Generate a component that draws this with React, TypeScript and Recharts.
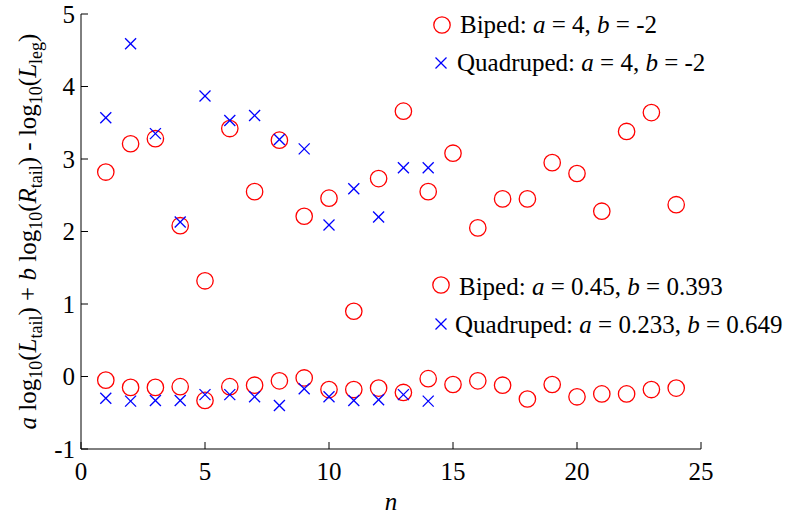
import { ScatterChart, Scatter, XAxis, YAxis, Label } from 'recharts';

const nBiped = [1, 2, 3, 4, 5, 6, 7, 8, 9, 10, 11, 12, 13, 14, 15, 16, 17, 18, 19, 20, 21, 22, 23, 24];
const nQuad = [1, 2, 3, 4, 5, 6, 7, 8, 9, 10, 11, 12, 13, 14];

// a = 4, b = -2
const bipedRaw = [2.82, 3.21, 3.28, 2.08, 1.32, 3.42, 2.55, 3.26, 2.21, 2.46, 0.9, 2.73, 3.66, 2.55, 3.08, 2.05, 2.45, 2.45, 2.95, 2.8, 2.28, 3.38, 3.64, 2.37];
const quadRaw = [3.57, 4.59, 3.35, 2.13, 3.87, 3.53, 3.6, 3.27, 3.14, 2.09, 2.59, 2.2, 2.88, 2.88];

// fitted a, b
const bipedFit = [-0.05, -0.15, -0.15, -0.14, -0.33, -0.14, -0.12, -0.06, -0.02, -0.18, -0.18, -0.16, -0.22, -0.03, -0.11, -0.06, -0.12, -0.31, -0.11, -0.28, -0.24, -0.24, -0.18, -0.16];
const quadFit = [-0.3, -0.34, -0.33, -0.33, -0.25, -0.25, -0.28, -0.4, -0.17, -0.28, -0.33, -0.32, -0.25, -0.34];

const xTicks = [0, 5, 10, 15, 20, 25];
const yTicks = [-1, 0, 1, 2, 3, 4, 5];

const toPoints = (xs: number[], ys: number[]) => xs.map((n, i) => ({ n, v: ys[i] }));

const FAM = { fontFamily: 'Liberation Serif' };
const FS = 25;
const SUB = 18;
const RED = '#ff0000';
const BLUE = '#0000ff';

const Ring = ({ cx, cy }: any) => (
  <circle cx={cx} cy={cy} r={8.2} fill="none" stroke={RED} strokeWidth={1.3} />
);

const Cross = ({ cx, cy }: any) => {
  const h = 5.5;
  return (
    <g stroke={BLUE} strokeWidth={1.3}>
      <line x1={cx - h} y1={cy - h} x2={cx + h} y2={cy + h} />
      <line x1={cx - h} y1={cy + h} x2={cx + h} y2={cy - h} />
    </g>
  );
};

const XTick = ({ x, y, payload }: any) => (
  <g>
    <line x1={x} y1={y} x2={x} y2={y - 7} stroke="#000" strokeWidth={1} />
    <text x={x} y={y + 31} textAnchor="middle" fontSize={FS} style={FAM} fill="#000">
      {payload.value}
    </text>
  </g>
);

const YTick = ({ x, y, payload }: any) => (
  <g>
    <line x1={x} y1={y} x2={x + 7} y2={y} stroke="#000" strokeWidth={1} />
    <text x={x - 6} y={y + 8.5} textAnchor="end" fontSize={FS} style={FAM} fill="#000">
      {payload.value}
    </text>
  </g>
);

const YTitle = ({ viewBox }: any) => {
  const cx = viewBox.x + 36;
  const cy = viewBox.y + viewBox.height / 2;
  return (
    <text
      x={cx}
      y={cy}
      transform={`rotate(-90, ${cx}, ${cy})`}
      textAnchor="middle"
      fontSize={FS}
      style={FAM}
      fill="#000"
    >
      <tspan fontStyle="italic">a</tspan>
      <tspan> log</tspan>
      <tspan dy={6} fontSize={SUB}>10</tspan>
      <tspan dy={-6}>(</tspan>
      <tspan fontStyle="italic">L</tspan>
      <tspan dy={6} fontSize={SUB}>tail</tspan>
      <tspan dy={-6}>) + </tspan>
      <tspan fontStyle="italic">b</tspan>
      <tspan> log</tspan>
      <tspan dy={6} fontSize={SUB}>10</tspan>
      <tspan dy={-6}>(</tspan>
      <tspan fontStyle="italic">R</tspan>
      <tspan dy={6} fontSize={SUB}>tail</tspan>
      <tspan dy={-6}>) - log</tspan>
      <tspan dy={6} fontSize={SUB}>10</tspan>
      <tspan dy={-6}>(</tspan>
      <tspan fontStyle="italic">L</tspan>
      <tspan dy={6} fontSize={SUB}>leg</tspan>
      <tspan dy={-6}>)</tspan>
    </text>
  );
};

const XTitle = ({ viewBox }: any) => (
  <text
    x={viewBox.x + viewBox.width / 2}
    y={510}
    textAnchor="middle"
    fontSize={FS}
    fontStyle="italic"
    style={FAM}
    fill="#000"
  >
    n
  </text>
);

const legendRows = [
  { kind: 'ring', mx: 442, my: 25, tx: 460, ty: 33, name: 'Biped: ', a: '4', b: '-2' },
  { kind: 'cross', mx: 441, my: 63, tx: 457, ty: 71, name: 'Quadruped: ', a: '4', b: '-2' },
  { kind: 'ring', mx: 441, my: 285, tx: 459, ty: 295, name: 'Biped: ', a: '0.45', b: '0.393' },
  { kind: 'cross', mx: 441, my: 324, tx: 455, ty: 333, name: 'Quadruped: ', a: '0.233', b: '0.649' },
];

const LegendOverlay = () => (
  <svg width={804} height={514} style={{ position: 'absolute', left: 0, top: 0, pointerEvents: 'none' }}>
    {legendRows.map((r, i) => (
      <g key={i}>
        {r.kind === 'ring' ? <Ring cx={r.mx} cy={r.my} /> : <Cross cx={r.mx} cy={r.my} />}
        <text x={r.tx} y={r.ty} fontSize={FS} style={FAM} fill="#000">
          <tspan>{r.name}</tspan>
          <tspan fontStyle="italic">a</tspan>
          <tspan>{` = ${r.a}, `}</tspan>
          <tspan fontStyle="italic">b</tspan>
          <tspan>{` = ${r.b}`}</tspan>
        </text>
      </g>
    ))}
  </svg>
);

export default function App() {
  return (
    <div style={{ position: 'absolute', left: 0, top: 0, width: 804, height: 514, background: '#fff' }}>
      <ScatterChart width={804} height={514} margin={{ top: 14, right: 103, left: 0, bottom: 0 }}>
        <XAxis
          type="number"
          dataKey="n"
          domain={[0, 25]}
          ticks={xTicks}
          height={65}
          tickSize={0}
          tickMargin={0}
          tickLine={false}
          axisLine={{ stroke: '#000', strokeWidth: 1 }}
          tick={<XTick />}
          interval={0}
        >
          <Label content={<XTitle />} />
        </XAxis>
        <YAxis
          type="number"
          dataKey="v"
          domain={[-1, 5]}
          ticks={yTicks}
          width={81}
          tickSize={0}
          tickMargin={0}
          tickLine={false}
          axisLine={{ stroke: '#000', strokeWidth: 1 }}
          tick={<YTick />}
          interval={0}
        >
          <Label content={<YTitle />} />
        </YAxis>
        <Scatter data={toPoints(nBiped, bipedRaw)} shape={<Ring />} isAnimationActive={false} />
        <Scatter data={toPoints(nBiped, bipedFit)} shape={<Ring />} isAnimationActive={false} />
        <Scatter data={toPoints(nQuad, quadRaw)} shape={<Cross />} isAnimationActive={false} />
        <Scatter data={toPoints(nQuad, quadFit)} shape={<Cross />} isAnimationActive={false} />
      </ScatterChart>
      <LegendOverlay />
    </div>
  );
}
